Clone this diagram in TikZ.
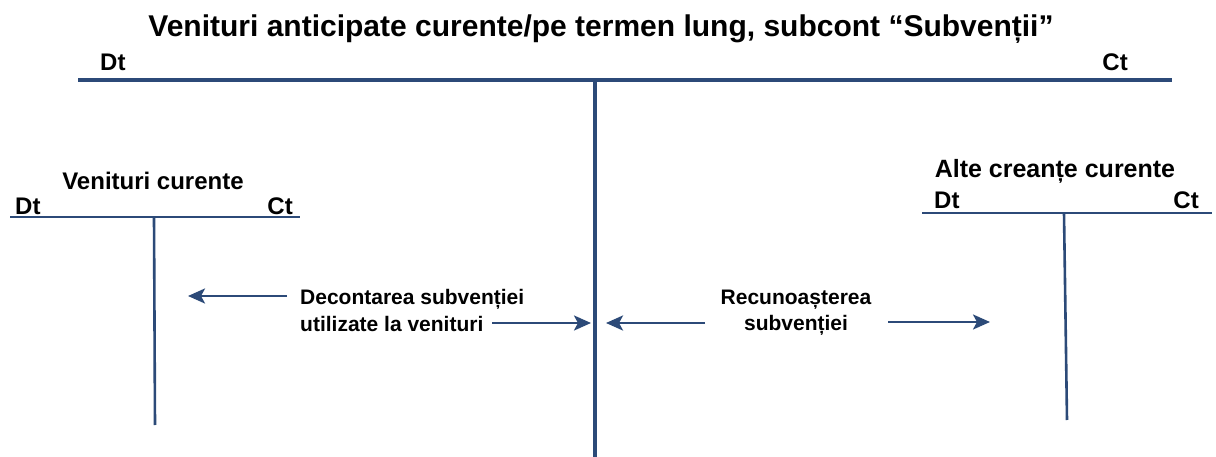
\documentclass[tikz,border=0pt]{standalone}
\usepackage{fontspec}
\setmainfont{Liberation Sans}
\usetikzlibrary{arrows.meta}
\definecolor{acc}{HTML}{2C4A78}
\begin{document}
\begin{tikzpicture}[x=1pt,y=-1pt,
  acline/.style={draw=acc,line width=3.2pt},
  tline/.style={draw=acc,line width=2.6pt},
  arr/.style={draw=acc,line width=2.6pt,-{Stealth[length=17pt,width=15pt,inset=4pt]}},
  lbl/.style={font=\bfseries\fontsize{21}{25}\selectfont,inner sep=0pt},
  dc/.style={font=\bfseries\fontsize{24}{28}\selectfont,inner sep=0pt},
  ttl/.style={font=\bfseries\fontsize{30}{36}\selectfont,inner sep=0pt}]
\useasboundingbox[fill=white] (0,0) rectangle (1216,457);
% title
\node[ttl,anchor=base] (title) at (601,37) {Venituri anticipate curente/pe termen lung, subcont “Subvenții”};
% main T
\coordinate (mL) at (78,80);
\coordinate (mR) at (1172,80);
\coordinate (mTop) at (595,80);
\coordinate (mBot) at (595,457);
\draw[acline] (mL) -- (mR);
\draw[acline] (mTop) -- (mBot);
\node[dc,anchor=base west] (mDt) at (100,71) {Dt};
\node[dc,anchor=base east] (mCt) at (1128,71) {Ct};
% left T
\coordinate (lL) at (10,217);
\coordinate (lR) at (300,217);
\coordinate (lTop) at (154,217);
\coordinate (lBot) at (155,425);
\draw[tline] (lL) -- (lR);
\draw[tline] (lTop) -- (lBot);
\node[dc,anchor=base] (lTitle) at (153,190) {Venituri curente};
\node[dc,anchor=base west] (lDt) at (15,215) {Dt};
\node[dc,anchor=base east] (lCt) at (293,215) {Ct};
% right T
\coordinate (rL) at (922,213);
\coordinate (rR) at (1212,213);
\coordinate (rTop) at (1064,213);
\coordinate (rBot) at (1067,420);
\draw[tline] (rL) -- (rR);
\draw[tline] (rTop) -- (rBot);
\node[dc,anchor=base,font=\bfseries\fontsize{25}{29}\selectfont] (rTitle) at (1055,178) {Alte creanțe curente};
\node[dc,anchor=base west] (rDt) at (934,209) {Dt};
\node[dc,anchor=base east] (rCt) at (1199,209) {Ct};
% labels
\node[lbl,anchor=base west] (dec1) at (300,305) {Decontarea subvenției};
\node[lbl,anchor=base west] (dec2) at (300,331) {utilizate la venituri};
\node[lbl,anchor=base] (rec1) at (796,305) {Recunoașterea};
\node[lbl,anchor=base] (rec2) at (796,330) {subvenției};
% arrows
\coordinate (a1s) at (287,296); \coordinate (a1e) at (188,296);
\coordinate (a2s) at (492,323); \coordinate (a2e) at (591,323);
\coordinate (a3s) at (705,323); \coordinate (a3e) at (606,323);
\coordinate (a4s) at (888,322); \coordinate (a4e) at (990,322);
\draw[arr] (a1s) -- (a1e);
\draw[arr] (a2s) -- (a2e);
\draw[arr] (a3s) -- (a3e);
\draw[arr] (a4s) -- (a4e);
\end{tikzpicture}
\end{document}
